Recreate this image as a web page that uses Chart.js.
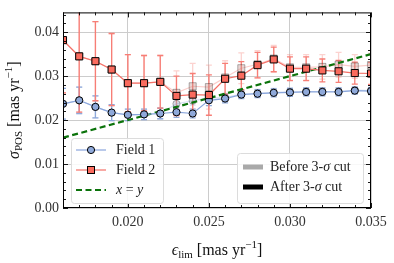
<!DOCTYPE html>
<html>
<head>
<meta charset="utf-8">
<script src="https://cdn.jsdelivr.net/npm/chart.js@4/dist/chart.umd.min.js"></script>
<style>
  html, body { margin: 0; padding: 0; background: #fff; }
</style>
</head>
<body>
<canvas id="myChart" width="394" height="263"></canvas>
<script>
// epsilon_lim values (mas/yr)
var eps = [0.016, 0.017, 0.018, 0.019, 0.020, 0.021, 0.022, 0.023, 0.024, 0.025,
           0.026, 0.027, 0.028, 0.029, 0.030, 0.031, 0.032, 0.033, 0.034, 0.035];

// after 3-sigma cut
var f1After = [0.0237, 0.0245, 0.0230, 0.0217, 0.0212, 0.0213, 0.0215, 0.0218, 0.0215, 0.0245,
               0.0249, 0.0258, 0.0260, 0.0262, 0.0263, 0.0264, 0.0264, 0.0264, 0.0267, 0.0266];
var f1Err   = [0.0035, 0.0030, 0.0025, 0.0018, 0.0013, 0.0012, 0.0012, 0.0012, 0.0010, 0.0012,
               0.0010, 0.0009, 0.0009, 0.0009, 0.0009, 0.0009, 0.0009, 0.0009, 0.0008, 0.0008];
var f2After = [0.0382, 0.0345, 0.0334, 0.0315, 0.0284, 0.0284, 0.0287, 0.0255, 0.0258, 0.0257,
               0.0294, 0.0301, 0.0325, 0.0338, 0.0317, 0.0317, 0.0313, 0.0311, 0.0307, 0.0306];
var f2Err   = [0.0120, 0.0127, 0.0090, 0.0082, 0.0065, 0.0063, 0.0060, 0.0045, 0.0048, 0.0046,
               0.0035, 0.0032, 0.0029, 0.0028, 0.0027, 0.0027, 0.0026, 0.0025, 0.0025, 0.0025];

// before 3-sigma cut
var f1Before = [0.0237, 0.0245, 0.0230, 0.0217, 0.0212, 0.0213, 0.0215, 0.0237, 0.0244, 0.0250,
                0.0251, 0.0259, 0.0261, 0.0263, 0.0264, 0.0265, 0.0265, 0.0265, 0.0268, 0.0267];
var f2Before = [0.0382, 0.0345, 0.0334, 0.0315, 0.0284, 0.0284, 0.0287, 0.0262, 0.0277, 0.0275,
                0.0297, 0.0318, 0.0327, 0.0340, 0.0320, 0.0320, 0.0321, 0.0326, 0.0322, 0.0325];
var f2BeforeErr = [0.0120, 0.0127, 0.0090, 0.0082, 0.0065, 0.0063, 0.0060, 0.0050, 0.0052, 0.0050,
                   0.0038, 0.0035, 0.0031, 0.0030, 0.0029, 0.0029, 0.0028, 0.0028, 0.0027, 0.0027];

var xTicks = [0.020, 0.025, 0.030, 0.035];
var yTicks = [0.00, 0.01, 0.02, 0.03, 0.04];

var SERIF = '"Liberation Serif", "DejaVu Serif", serif';
var BLUE = '#8fa9da', BLUE_LINE = '#8aa6dc';
var RED = '#fa6b5e', RED_LINE = '#f47168', RED_ERR = '#f77e76';
var GREEN = '#0b730b';

function pts(v) {
  return eps.map(function(e, i) { return {x: e, y: v[i]}; });
}

// error bars, drawn below the markers
var errorBars = {
  id: 'errorBars',
  beforeDatasetsDraw: function(chart) {
    var ctx = chart.ctx, xs = chart.scales.x, ys = chart.scales.y, a = chart.chartArea;
    var sets = [
      {v: f2Before, e: f2BeforeErr, c: RED_ERR, a: 0.35},
      {v: f1Before, e: f1Err, c: BLUE, a: 0.35},
      {v: f1After, e: f1Err, c: BLUE, a: 1},
      {v: f2After, e: f2Err, c: RED_ERR, a: 1}
    ];
    ctx.save();
    ctx.beginPath();
    ctx.rect(a.left, a.top, a.right - a.left, a.bottom - a.top);
    ctx.clip();
    sets.forEach(function(s) {
      ctx.globalAlpha = s.a;
      ctx.strokeStyle = s.c;
      ctx.lineWidth = 1.3;
      eps.forEach(function(x, i) {
        var px = xs.getPixelForValue(x);
        var lo = ys.getPixelForValue(s.v[i] - s.e[i]);
        var hi = ys.getPixelForValue(s.v[i] + s.e[i]);
        ctx.beginPath();
        ctx.moveTo(px, lo); ctx.lineTo(px, hi);
        ctx.moveTo(px - 3, lo); ctx.lineTo(px + 3, lo);
        ctx.moveTo(px - 3, hi); ctx.lineTo(px + 3, hi);
        ctx.stroke();
      });
    });
    ctx.restore();
  }
};

function rich(ctx, parts, x, y) {
  var w = 0;
  parts.forEach(function(p) { ctx.font = p[1]; w += ctx.measureText(p[0]).width; });
  var cx = x - w / 2;
  parts.forEach(function(p) {
    ctx.font = p[1];
    ctx.fillText(p[0], cx, y + (p[2] || 0));
    cx += ctx.measureText(p[0]).width;
  });
}

function richLeft(ctx, parts, x, y) {
  var cx = x;
  parts.forEach(function(p) {
    ctx.font = p[1];
    ctx.fillText(p[0], cx, y + (p[2] || 0));
    cx += ctx.measureText(p[0]).width;
  });
}

// frame, inward ticks, axis titles, legends
var decor = {
  id: 'decor',
  afterDraw: function(chart) {
    var ctx = chart.ctx, xs = chart.scales.x, ys = chart.scales.y, a = chart.chartArea;
    ctx.save();
    ctx.strokeStyle = '#000';
    ctx.lineWidth = 1;
    ctx.strokeRect(a.left + 0.5, a.top + 0.5, a.right - a.left - 1, a.bottom - a.top - 1);

    ctx.lineWidth = 0.9;
    ctx.beginPath();
    for (var k = 16; k <= 35; k++) {
      var px = Math.round(xs.getPixelForValue(k / 1000)) + 0.5;
      var len = (k % 5 === 0) ? 5 : 3;
      ctx.moveTo(px, a.bottom); ctx.lineTo(px, a.bottom - len);
      ctx.moveTo(px, a.top); ctx.lineTo(px, a.top + len);
    }
    for (var j = 0; j <= 44; j += 2) {
      var py = Math.round(ys.getPixelForValue(j / 1000)) + 0.5;
      var l2 = (j % 10 === 0) ? 5 : 3;
      ctx.moveTo(a.left, py); ctx.lineTo(a.left + l2, py);
      ctx.moveTo(a.right, py); ctx.lineTo(a.right - l2, py);
    }
    ctx.stroke();

    // axis titles
    ctx.fillStyle = '#111';
    ctx.textBaseline = 'alphabetic';
    var tf = '16px ' + SERIF, tfi = 'italic 16px ' + SERIF, tfs = '11px ' + SERIF;
    rich(ctx, [['\u03f5', tfi], ['lim', tfs, 3], [' [mas yr', tf], ['\u22121', tfs, -7], [']', tf]],
         (a.left + a.right) / 2, 255);
    ctx.translate(19, (a.top + a.bottom) / 2);
    ctx.rotate(-Math.PI / 2);
    rich(ctx, [['\u03c3', tfi], ['POS', tfs, 3], [' [mas yr', tf], ['\u22121', tfs, -7], [']', tf]], 0, 0);
    ctx.setTransform(1, 0, 0, 1, 0, 0);

    var f = '14px ' + SERIF, fi = 'italic 14px ' + SERIF;
    // left legend
    function box(x0, y0, x1, y1) {
      ctx.beginPath();
      ctx.roundRect(x0 + 0.5, y0 + 0.5, x1 - x0, y1 - y0, 3);
      ctx.fillStyle = 'rgba(255,255,255,0.85)';
      ctx.fill();
      ctx.strokeStyle = '#dcdcdc';
      ctx.lineWidth = 1;
      ctx.stroke();
    }
    box(71, 138, 163, 203);
    ctx.lineWidth = 1.2;
    ctx.strokeStyle = BLUE_LINE;
    ctx.beginPath(); ctx.moveTo(76, 150); ctx.lineTo(106, 150); ctx.stroke();
    ctx.strokeStyle = RED_LINE;
    ctx.beginPath(); ctx.moveTo(76, 170); ctx.lineTo(106, 170); ctx.stroke();
    ctx.lineWidth = 1;
    ctx.strokeStyle = '#000';
    ctx.fillStyle = BLUE;
    ctx.beginPath(); ctx.arc(91, 150, 3.6, 0, Math.PI * 2); ctx.fill(); ctx.stroke();
    ctx.fillStyle = RED;
    ctx.fillRect(87.5, 166.5, 7, 7); ctx.strokeRect(87.5, 166.5, 7, 7);
    ctx.strokeStyle = GREEN;
    ctx.lineWidth = 2.2;
    ctx.setLineDash([6, 3.5]);
    ctx.beginPath(); ctx.moveTo(76, 190); ctx.lineTo(106, 190); ctx.stroke();
    ctx.setLineDash([]);
    ctx.fillStyle = '#222';
    ctx.textBaseline = 'middle';
    richLeft(ctx, [['Field 1', f]], 116, 150);
    richLeft(ctx, [['Field 2', f]], 116, 170);
    richLeft(ctx, [['x', fi], [' = ', f], ['y', fi]], 116, 190);

    // right legend
    box(237, 153, 363, 203);
    ctx.fillStyle = '#a9a9a9';
    ctx.fillRect(243, 164.5, 20, 5);
    ctx.fillStyle = '#000';
    ctx.fillRect(243, 184.5, 20, 5);
    ctx.fillStyle = '#222';
    richLeft(ctx, [['Before 3-', f], ['\u03c3', fi], [' cut', f]], 270, 167);
    richLeft(ctx, [['After 3-', f], ['\u03c3', fi], [' cut', f]], 270, 187);
    ctx.restore();
  }
};

var ctx = document.getElementById('myChart').getContext('2d');
var myChart = new Chart(ctx, {
  type: 'line',
  plugins: [errorBars, decor],
  data: {
    datasets: [
      {
        label: 'Field 2', data: pts(f2After), order: 0,
        borderColor: RED_LINE, borderWidth: 1.2,
        pointStyle: 'rect', pointRadius: 5, pointBackgroundColor: RED,
        pointBorderColor: '#000', pointBorderWidth: 1
      },
      {
        label: 'Field 1', data: pts(f1After), order: 1,
        borderColor: BLUE_LINE, borderWidth: 1.2,
        pointStyle: 'circle', pointRadius: 3.6, pointBackgroundColor: BLUE,
        pointBorderColor: '#000', pointBorderWidth: 1
      },
      {
        label: 'x = y', order: 2,
        data: [eps[0], eps[eps.length - 1]].map(function(v) { return {x: v, y: v}; }),
        borderColor: GREEN, borderWidth: 2.2, borderDash: [6, 3.5], pointRadius: 0
      },
      {
        label: 'Field 1 before', data: pts(f1Before), order: 3,
        borderColor: 'rgba(138,166,220,0.35)', borderWidth: 1.2,
        pointStyle: 'circle', pointRadius: 3.6, pointBackgroundColor: 'rgba(160,170,190,0.4)',
        pointBorderColor: 'rgba(0,0,0,0.3)', pointBorderWidth: 1
      },
      {
        label: 'Field 2 before', data: pts(f2Before), order: 4,
        borderColor: 'rgba(244,113,104,0.35)', borderWidth: 1.2,
        pointStyle: 'rect', pointRadius: 5, pointBackgroundColor: 'rgba(200,150,145,0.4)',
        pointBorderColor: 'rgba(0,0,0,0.3)', pointBorderWidth: 1
      }
    ]
  },
  options: {
    responsive: false,
    animation: false,
    layout: { padding: { left: 0, right: 23, top: 9, bottom: 0 } },
    plugins: {
      legend: { display: false },
      tooltip: { enabled: false }
    },
    scales: {
      x: {
        type: 'linear', min: 0.016, max: 0.035,
        afterBuildTicks: function(s) { s.ticks = xTicks.map(function(v) { return {value: v}; }); },
        afterFit: function(s) { s.height = 55; },
        grid: { color: '#cccccc', lineWidth: 1, drawTicks: false },
        border: { display: false },
        ticks: {
          padding: 6, color: '#333', maxRotation: 0, autoSkip: false,
          font: { family: SERIF, size: 14 },
          callback: function(v) { return v.toFixed(3); }
        }
      },
      y: {
        min: 0, max: 0.0445,
        afterBuildTicks: function(s) { s.ticks = yTicks.map(function(v) { return {value: v}; }); },
        afterFit: function(s) { s.width = 63; },
        grid: { color: '#cccccc', lineWidth: 1, drawTicks: false },
        border: { display: false },
        ticks: {
          padding: 4, color: '#333',
          font: { family: SERIF, size: 14 },
          callback: function(v) { return v.toFixed(2); }
        }
      }
    }
  }
});
</script>
</body>
</html>
